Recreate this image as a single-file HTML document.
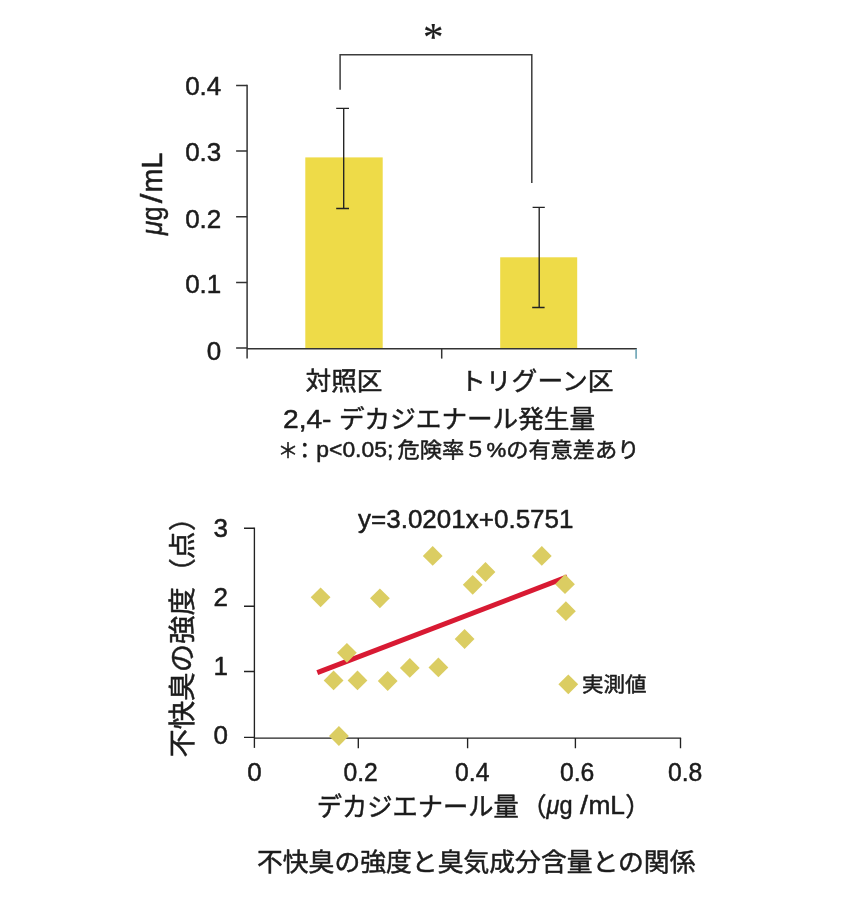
<!DOCTYPE html>
<html lang="ja">
<head>
<meta charset="utf-8">
<title>2,4-デカジエナール発生量 / 不快臭の強度と臭気成分含量との関係</title>
<style>
  html, body { margin: 0; padding: 0; background: #ffffff; }
  body { width: 852px; height: 916px; overflow: hidden; }
  svg { display: block; }
  text { font-family: "Liberation Sans", "Noto Sans CJK JP", sans-serif; fill: #1c1c1c; stroke: #1c1c1c; stroke-width: 0.5px; stroke-linejoin: round; }
  .ax { stroke: #333333; stroke-width: 1.5; fill: none; }
  .ax2 { stroke: #222222; stroke-width: 1.35; fill: none; }
  .bar { fill: #eedb48; }
  .pt { fill: #dbcd62; }
</style>
</head>
<body>
<svg width="852" height="916" viewBox="0 0 852 916">
  <rect x="0" y="0" width="852" height="916" fill="#ffffff"/>

  <!-- ============ Top chart: bar graph ============ -->
  <g id="bar-chart">
    <!-- bars -->
    <rect class="bar" x="305.3" y="157.4" width="77.4" height="191"/>
    <rect class="bar" x="500.2" y="257.3" width="77" height="91.1"/>

    <!-- axes -->
    <path class="ax" d="M247.1 84.8 V358.6"/>
    <path class="ax" d="M247.1 348.7 H636.8"/>
    <path class="ax" d="M236.1 85.5 H247.1 M236.1 151.1 H247.1 M236.1 216.8 H247.1 M236.1 282.5 H247.1 M236.1 347.9 H247.1"/>
    <path class="ax" d="M441.7 348.6 V358.6"/>
    <path d="M636.1 349 V358.8" stroke="#6aa3b4" stroke-width="1.6" fill="none"/>

    <!-- error bars -->
    <path class="ax2" d="M343.7 108.3 V208.5 M336.2 108.3 H349 M336.2 208.5 H349"/>
    <path class="ax2" d="M539.2 207.3 V307.5 M532.6 207.3 H544.8 M532.2 307.5 H544.6"/>

    <!-- significance bracket -->
    <path class="ax" style="stroke:#3c3c3c" d="M340.1 89.8 V54.85 H531.8 V182.9"/>
    <text x="433.2" y="50.3" font-size="41" text-anchor="middle" style="font-family:'Liberation Serif','Noto Serif CJK SC',serif;stroke-width:0.2px">*</text>

    <!-- y tick labels -->
    <text x="221.3" y="95" font-size="26" text-anchor="end">0.4</text>
    <text x="221.3" y="161.2" font-size="26" text-anchor="end">0.3</text>
    <text x="221.3" y="227.5" font-size="26" text-anchor="end">0.2</text>
    <text x="221.3" y="293.2" font-size="26" text-anchor="end">0.1</text>
    <text x="221.3" y="360" font-size="26" text-anchor="end">0</text>

    <!-- y axis title -->
    <text transform="translate(161.8 235) rotate(-90)" font-size="29" textLength="28.5" lengthAdjust="spacingAndGlyphs"><tspan font-style="italic">μ</tspan>g</text>
    <text transform="translate(161.8 203.2) rotate(-90)" font-size="29" textLength="9.6" lengthAdjust="spacingAndGlyphs">/</text>
    <text transform="translate(161.8 192.4) rotate(-90)" font-size="29" textLength="40" lengthAdjust="spacingAndGlyphs">mL</text>

    <!-- category labels -->
    <text x="305.5" y="390.3" font-size="24.6" textLength="77" lengthAdjust="spacingAndGlyphs">対照区</text>
    <text x="460" y="390.3" font-size="24.6" textLength="153.5" lengthAdjust="spacingAndGlyphs">トリグーン区</text>

    <!-- chart title -->
    <text x="283" y="428" font-size="26" textLength="48.5" lengthAdjust="spacingAndGlyphs">2,4-</text>
    <text x="339" y="428.2" font-size="25" textLength="256" lengthAdjust="spacingAndGlyphs">デカジエナール発生量</text>

    <!-- footnote -->
    <text x="288" y="457.5" font-size="20.5" text-anchor="middle">＊</text>
    <text x="304.8" y="457.5" font-size="21.5" text-anchor="middle">：</text>
    <text x="316.3" y="457.3" font-size="22" textLength="77" lengthAdjust="spacingAndGlyphs">p&lt;0.05;</text>
    <text x="397.5" y="456.9" font-size="21" textLength="242" lengthAdjust="spacingAndGlyphs">危険率５%の有意差あり</text>
  </g>

  <!-- ============ Bottom chart: scatter plot ============ -->
  <g id="scatter-chart">
    <!-- axes -->
    <path class="ax2" d="M254.4 527.6 V747.9"/>
    <path class="ax2" d="M254.4 738.1 H681.1"/>
    <path class="ax2" d="M244 528.2 H254.4 M244 606.2 H254.4 M244 671.5 H254.4 M244 737.3 H254.4"/>
    <path class="ax2" d="M358.3 738.1 V748.2 M467.6 738.1 V748.2 M575.4 738.1 V748.2 M680.5 738.1 V748.2"/>

    <!-- regression line -->
    <path d="M317.3 672.6 L567.2 576.9" stroke="#d81a33" stroke-width="5" fill="none"/>

    <!-- data points + legend marker -->
    <g class="pt">
      <path d="M320.6 587.4 l9.9 9.9 l-9.9 9.9 l-9.9 -9.9 z"/>
      <path d="M379.9 588.4 l9.9 9.9 l-9.9 9.9 l-9.9 -9.9 z"/>
      <path d="M432.7 546.0 l9.9 9.9 l-9.9 9.9 l-9.9 -9.9 z"/>
      <path d="M346.9 642.9 l9.9 9.9 l-9.9 9.9 l-9.9 -9.9 z"/>
      <path d="M333.6 670.5 l9.9 9.9 l-9.9 9.9 l-9.9 -9.9 z"/>
      <path d="M357.5 670.5 l9.9 9.9 l-9.9 9.9 l-9.9 -9.9 z"/>
      <path d="M387.7 671.1 l9.9 9.9 l-9.9 9.9 l-9.9 -9.9 z"/>
      <path d="M409.8 658.0 l9.9 9.9 l-9.9 9.9 l-9.9 -9.9 z"/>
      <path d="M438.4 657.5 l9.9 9.9 l-9.9 9.9 l-9.9 -9.9 z"/>
      <path d="M338.9 726.1 l9.9 9.9 l-9.9 9.9 l-9.9 -9.9 z"/>
      <path d="M472.7 574.9 l9.9 9.9 l-9.9 9.9 l-9.9 -9.9 z"/>
      <path d="M485.5 562.1 l9.9 9.9 l-9.9 9.9 l-9.9 -9.9 z"/>
      <path d="M541.8 546.0 l9.9 9.9 l-9.9 9.9 l-9.9 -9.9 z"/>
      <path d="M565.9 601.3 l9.9 9.9 l-9.9 9.9 l-9.9 -9.9 z"/>
      <path d="M464.6 629.1 l9.9 9.9 l-9.9 9.9 l-9.9 -9.9 z"/>
      <path d="M565.0 574.3 l9.9 9.9 l-9.9 9.9 l-9.9 -9.9 z"/>
      <path d="M568.3 674.4 l9.9 9.9 l-9.9 9.9 l-9.9 -9.9 z"/>
    </g>
    <text x="582" y="691.6" font-size="20.6" textLength="64.5" lengthAdjust="spacingAndGlyphs">実測値</text>

    <!-- equation -->
    <text x="358" y="528" font-size="26" textLength="215.5" lengthAdjust="spacingAndGlyphs">y=3.0201x+0.5751</text>

    <!-- y tick labels -->
    <text x="220.7" y="537" font-size="26" text-anchor="middle">3</text>
    <text x="220.7" y="606" font-size="26" text-anchor="middle">2</text>
    <text x="220.7" y="675" font-size="26" text-anchor="middle">1</text>
    <text x="220.7" y="743.5" font-size="26" text-anchor="middle">0</text>

    <!-- x tick labels -->
    <text x="254.4" y="781" font-size="26" text-anchor="middle">0</text>
    <text x="360.6" y="781" font-size="26" text-anchor="middle" textLength="34.4" lengthAdjust="spacingAndGlyphs">0.2</text>
    <text x="472.3" y="781" font-size="26" text-anchor="middle" textLength="34.4" lengthAdjust="spacingAndGlyphs">0.4</text>
    <text x="577.1" y="781" font-size="26" text-anchor="middle" textLength="34.4" lengthAdjust="spacingAndGlyphs">0.6</text>
    <text x="685.1" y="781" font-size="26" text-anchor="middle" textLength="34.4" lengthAdjust="spacingAndGlyphs">0.8</text>

    <!-- y axis title -->
    <text transform="translate(192.3 757.6) rotate(-90)" font-size="27.4" textLength="170.5" lengthAdjust="spacingAndGlyphs">不快臭の強度</text>
    <text transform="translate(192.3 585.6) rotate(-90)" font-size="27.4">（</text>
    <text transform="translate(192.3 558.9) rotate(-90)" font-size="27.4">点</text>
    <text transform="translate(192.3 531) rotate(-90)" font-size="27.4">）</text>

    <!-- x axis title -->
    <text x="316.8" y="815.5" font-size="25.6" textLength="202" lengthAdjust="spacingAndGlyphs">デカジエナール量</text>
    <text x="521" y="815.5" font-size="25.6">（</text>
    <text x="546.6" y="813.5" font-size="25" textLength="26" lengthAdjust="spacingAndGlyphs"><tspan font-style="italic">μ</tspan>g</text>
    <text x="580.1" y="813.5" font-size="25" textLength="8" lengthAdjust="spacingAndGlyphs">/</text>
    <text x="588.4" y="813.5" font-size="25" textLength="36.6" lengthAdjust="spacingAndGlyphs">mL</text>
    <text x="625.2" y="815.5" font-size="25.6">）</text>
  </g>

  <!-- caption -->
  <text x="257" y="871.2" font-size="25" textLength="438.5" lengthAdjust="spacingAndGlyphs">不快臭の強度と臭気成分含量との関係</text>
</svg>
</body>
</html>
